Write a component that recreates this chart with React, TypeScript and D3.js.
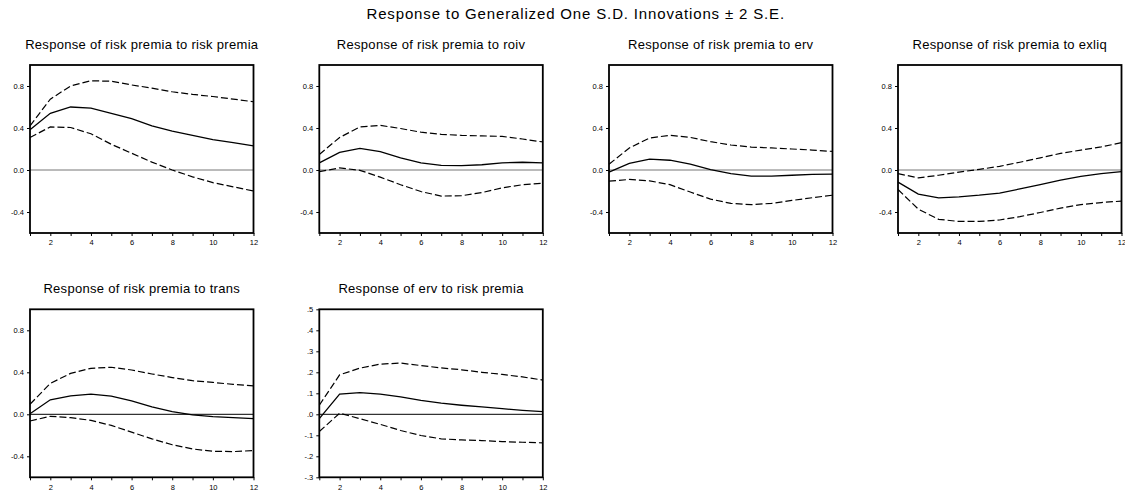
import { useEffect, useRef } from "react";
import * as d3 from "d3";

const WIDTH = 1125;
const HEIGHT = 500;

const mainTitle = "Response to Generalized One S.D. Innovations \u00b1 2 S.E.";
const horizon = [1, 2, 3, 4, 5, 6, 7, 8, 9, 10, 11, 12];
const xTickLabels = [2, 4, 6, 8, 10, 12];

const titles = [
  "Response of risk premia to risk premia",
  "Response of risk premia to roiv",
  "Response of risk premia to erv",
  "Response of risk premia to exliq",
  "Response of risk premia to trans",
  "Response of erv to risk premia",
];

const yTicksA = [-0.4, 0.0, 0.4, 0.8];
const yTicksB = [-0.3, -0.2, -0.1, 0.0, 0.1, 0.2, 0.3, 0.4, 0.5];

// risk premia -> risk premia
const rpRpMid = [0.384, 0.54, 0.6, 0.59, 0.54, 0.49, 0.42, 0.37, 0.33, 0.29, 0.26, 0.23];
const rpRpHi = [0.42, 0.675, 0.8, 0.85, 0.845, 0.81, 0.78, 0.745, 0.72, 0.7, 0.675, 0.65];
const rpRpLo = [0.31, 0.41, 0.405, 0.345, 0.245, 0.16, 0.075, 0.0, -0.065, -0.12, -0.16, -0.2];

// risk premia -> roiv
const rpRoivMid = [0.068, 0.167, 0.206, 0.174, 0.116, 0.068, 0.045, 0.042, 0.05, 0.068, 0.074, 0.068];
const rpRoivHi = [0.148, 0.31, 0.41, 0.425, 0.395, 0.36, 0.34, 0.33, 0.325, 0.32, 0.295, 0.267];
const rpRoivLo = [-0.016, 0.02, -0.003, -0.068, -0.14, -0.205, -0.248, -0.245, -0.215, -0.17, -0.14, -0.125];

// risk premia -> erv
const rpErvMid = [-0.02, 0.064, 0.103, 0.093, 0.055, 0.003, -0.035, -0.058, -0.058, -0.05, -0.042, -0.04];
const rpErvHi = [0.055, 0.21, 0.305, 0.33, 0.31, 0.27, 0.238, 0.218, 0.21, 0.2, 0.19, 0.177];
const rpErvLo = [-0.106, -0.09, -0.103, -0.14, -0.21, -0.277, -0.318, -0.33, -0.318, -0.29, -0.264, -0.24];

// risk premia -> exliq
const rpExliqMid = [-0.115, -0.23, -0.265, -0.255, -0.24, -0.22, -0.18, -0.14, -0.097, -0.06, -0.035, -0.016];
const rpExliqHi = [-0.035, -0.075, -0.05, -0.02, 0.006, 0.035, 0.074, 0.116, 0.158, 0.19, 0.22, 0.26];
const rpExliqLo = [-0.186, -0.373, -0.47, -0.49, -0.49, -0.476, -0.444, -0.405, -0.363, -0.33, -0.31, -0.296];

// risk premia -> trans
const rpTransMid = [0.006, 0.138, 0.176, 0.192, 0.173, 0.128, 0.07, 0.026, -0.006, -0.022, -0.032, -0.042];
const rpTransHi = [0.096, 0.294, 0.39, 0.438, 0.448, 0.422, 0.384, 0.35, 0.32, 0.304, 0.285, 0.27];
const rpTransLo = [-0.064, -0.019, -0.032, -0.058, -0.106, -0.17, -0.234, -0.29, -0.33, -0.352, -0.355, -0.346];

// erv -> risk premia
const ervRpMid = [-0.021, 0.096, 0.103, 0.096, 0.083, 0.066, 0.053, 0.043, 0.035, 0.027, 0.019, 0.013];
const ervRpHi = [0.043, 0.188, 0.22, 0.239, 0.244, 0.232, 0.221, 0.212, 0.2, 0.19, 0.178, 0.163];
const ervRpLo = [-0.082, 0.005, -0.021, -0.048, -0.077, -0.101, -0.117, -0.122, -0.125, -0.13, -0.133, -0.136];

const panels = [
  { title: titles[0], mid: rpRpMid, hi: rpRpHi, lo: rpRpLo, domain: [-0.6, 1.0], ticks: yTicksA, fmt: "0.0", row: 0, col: 0 },
  { title: titles[1], mid: rpRoivMid, hi: rpRoivHi, lo: rpRoivLo, domain: [-0.6, 1.0], ticks: yTicksA, fmt: "0.0", row: 0, col: 1 },
  { title: titles[2], mid: rpErvMid, hi: rpErvHi, lo: rpErvLo, domain: [-0.6, 1.0], ticks: yTicksA, fmt: "0.0", row: 0, col: 2 },
  { title: titles[3], mid: rpExliqMid, hi: rpExliqHi, lo: rpExliqLo, domain: [-0.6, 1.0], ticks: yTicksA, fmt: "0.0", row: 0, col: 3 },
  { title: titles[4], mid: rpTransMid, hi: rpTransHi, lo: rpTransLo, domain: [-0.6, 1.0], ticks: yTicksA, fmt: "0.0", row: 1, col: 0 },
  { title: titles[5], mid: ervRpMid, hi: ervRpHi, lo: ervRpLo, domain: [-0.3, 0.5], ticks: yTicksB, fmt: ".x", row: 1, col: 1 },
];

const colLeft = [30, 319.3, 609, 898];
const rowTop = [65, 309.3];
const panelW = 223.5;
const panelH = 168;
const FONT = "'Liberation Sans', Arial, sans-serif";

// EViews style: ".5", "-.1", ".0"
function shortFmt(v: number) {
  const s = v.toFixed(1);
  return s.replace(/^(-?)0\./, "$1.");
}

function drawPanel(svg: d3.Selection<SVGSVGElement, unknown, null, undefined>, p: (typeof panels)[number]) {
  const left = colLeft[p.col];
  const top = rowTop[p.row];
  const g = svg.append("g").attr("transform", `translate(${left},${top})`);

  const x = d3.scaleLinear().domain([1, 12]).range([0, panelW]);
  const y = d3.scaleLinear().domain(p.domain).range([panelH, 0]);

  // title
  g.append("text")
    .attr("x", panelW / 2)
    .attr("y", -16)
    .attr("text-anchor", "middle")
    .style("font-family", FONT)
    .style("font-size", "13px")
    .style("letter-spacing", "0.3px")
    .text(p.title);

  // zero line
  g.append("line")
    .attr("x1", 0)
    .attr("x2", panelW)
    .attr("y1", y(0))
    .attr("y2", y(0))
    .attr("stroke", p.row === 0 ? "#777" : "#000")
    .attr("stroke-width", 1);

  const line = d3
    .line<number>()
    .x((_, i) => x(horizon[i]))
    .y((d) => y(d));

  g.append("path").datum(p.hi).attr("d", line).attr("fill", "none").attr("stroke", "#000").attr("stroke-width", 1.2).attr("stroke-dasharray", "7,3");
  g.append("path").datum(p.lo).attr("d", line).attr("fill", "none").attr("stroke", "#000").attr("stroke-width", 1.2).attr("stroke-dasharray", "7,3");
  g.append("path").datum(p.mid).attr("d", line).attr("fill", "none").attr("stroke", "#000").attr("stroke-width", 1.3);

  // y axis
  const yAxis = d3
    .axisLeft(y)
    .tickValues(p.ticks)
    .tickSize(3)
    .tickPadding(3)
    .tickFormat((d) => (p.fmt === "0.0" ? (d as number).toFixed(1) : shortFmt(d as number)));
  const ya = g.append("g").call(yAxis);
  ya.select(".domain").remove();
  ya.selectAll("text").style("font-family", FONT).style("font-size", "7.5px").attr("fill", "#000");
  ya.selectAll("line").attr("stroke", "#000");

  // x axis
  const xAxis = d3
    .axisBottom(x)
    .tickValues(horizon)
    .tickSize(3)
    .tickPadding(4)
    .tickFormat((d) => (xTickLabels.includes(d as number) ? String(d) : ""));
  const xa = g.append("g").attr("transform", `translate(0,${panelH})`).call(xAxis);
  xa.select(".domain").remove();
  xa.selectAll("text").style("font-family", FONT).style("font-size", "7.5px").attr("fill", "#000");
  xa.selectAll("line").attr("stroke", "#000");

  // frame
  g.append("rect")
    .attr("x", 0)
    .attr("y", 0)
    .attr("width", panelW)
    .attr("height", panelH)
    .attr("fill", "none")
    .attr("stroke", "#000")
    .attr("stroke-width", 1.8);
}

export default function App() {
  const ref = useRef<SVGSVGElement>(null);

  useEffect(() => {
    if (!ref.current) return;
    const svg = d3.select(ref.current);
    svg.selectAll("*").remove();

    svg.append("rect").attr("width", WIDTH).attr("height", HEIGHT).attr("fill", "#fff");

    svg
      .append("text")
      .attr("x", (colLeft[0] + colLeft[3] + panelW) / 2)
      .attr("y", 19)
      .attr("text-anchor", "middle")
      .style("font-family", FONT)
      .style("font-size", "15px")
      .style("letter-spacing", "0.85px")
      .text(mainTitle);

    panels.forEach((p) => drawPanel(svg, p));
  }, []);

  return (
    <svg
      ref={ref}
      width={WIDTH}
      height={HEIGHT}
      style={{ position: "absolute", left: 0, top: 0, background: "#fff" }}
    />
  );
}
